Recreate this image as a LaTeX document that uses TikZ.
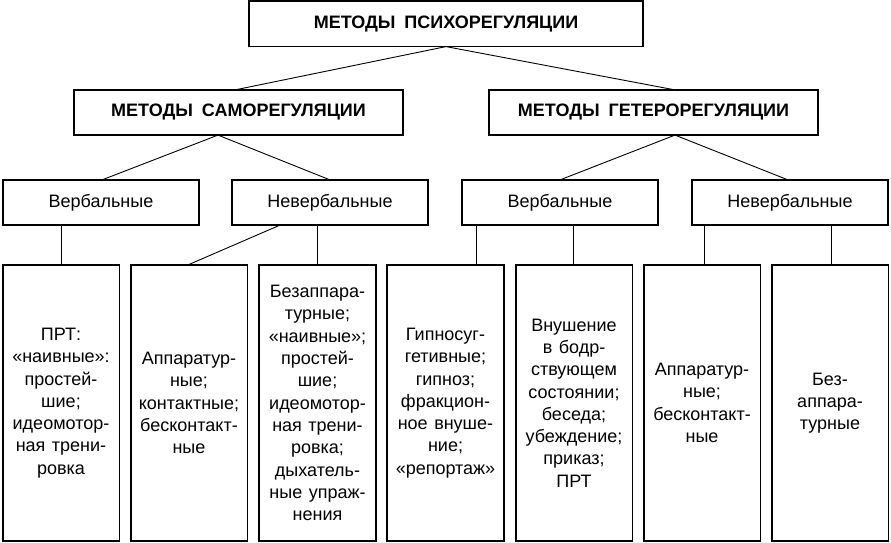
\documentclass[tikz,border=0pt]{standalone}
\usepackage{fontspec}
\setmainfont{Liberation Sans}[WordSpace=1.3]
\begin{document}
\begin{tikzpicture}[x=1pt,y=-1pt,
  box/.style={draw, line width=1.8pt, inner sep=0pt, outer sep=0pt, align=center,
    font=\fontsize{18}{22.3}\selectfont},
  headbox/.style={box, minimum height=45.2pt, font=\fontsize{18}{22.3}\selectfont\bfseries},
  midbox/.style={box, minimum width=196.2pt, minimum height=45.2pt},
  leafbox/.style={box, minimum width=116.8pt, minimum height=276.2pt},
  link/.style={line width=0.9pt}]
\useasboundingbox (0,0) rectangle (891,543);
% top level
\node[headbox, minimum width=394.2pt] (top) at (446,24) {МЕТОДЫ\enspace ПСИХОРЕГУЛЯЦИИ};
\node[headbox, minimum width=329.2pt] (samo) at (238.5,112.5) {МЕТОДЫ\enspace САМОРЕГУЛЯЦИИ};
\node[headbox, minimum width=329.2pt] (getero) at (653.5,112.5) {МЕТОДЫ\enspace ГЕТЕРОРЕГУЛЯЦИИ};
% second level
\node[midbox] (verb1) at (101,202.5) {Вербальные};
\node[midbox] (nevb1) at (330,202.5) {Невербальные};
\node[midbox] (verb2) at (560,202.5) {Вербальные};
\node[midbox] (nevb2) at (790,202.5) {Невербальные};
% leaves
\node[leafbox] (b1) at (61,403) {ПРТ:\\«наивные»:\\простей-\\шие;\\идеомотор-\\ная трени-\\ровка};
\node[leafbox] (b2) at (189,403) {Аппаратур-\\ные;\\контактные;\\бесконтакт-\\ные};
\node[leafbox] (b3) at (317.5,403) {Безаппара-\\турные;\\«наивные»;\\простей-\\шие;\\идеомотор-\\ная трени-\\ровка;\\дыхатель-\\ные упраж-\\нения};
\node[leafbox] (b4) at (445.5,403) {Гипносуг-\\гетивные;\\гипноз;\\фракцион-\\ное внуше-\\ние;\\«репортаж»};
\node[leafbox] (b5) at (574,403) {Внушение\\в бодр-\\ствующем\\состоянии;\\беседа;\\убеждение;\\приказ;\\ПРТ};
\node[leafbox] (b6) at (702,403) {Аппаратур-\\ные;\\бесконтакт-\\ные};
\node[leafbox] (b7) at (830,403) {Без-\\аппара-\\турные};
% connectors
\draw[link] (top.south) -- ([xshift=-3.5pt]samo.north);
\draw[link] (top.south) -- ([xshift=21.5pt]getero.north);
\draw[link] ([xshift=-20.5pt]samo.south) -- ([xshift=1pt]verb1.north);
\draw[link] ([xshift=-20.5pt]samo.south) -- (nevb1.north);
\draw[link] ([xshift=21.5pt]getero.south) -- (verb2.north);
\draw[link] ([xshift=21.5pt]getero.south) -- ([xshift=-2pt]nevb2.north);
\draw[link] ([xshift=-40pt]verb1.south) -- (b1.north);
\draw[link] ([xshift=-50pt]nevb1.south) -- ([xshift=-1pt]b2.north);
\draw[link] ([xshift=-13pt]nevb1.south) -- (b3.north -| {317,0});
\draw[link] ([xshift=-84pt]verb2.south) -- (b4.north -| {476,0});
\draw[link] ([xshift=13pt]verb2.south) -- (b5.north -| {573,0});
\draw[link] ([xshift=-86pt]nevb2.south) -- (b6.north -| {704,0});
\draw[link] ([xshift=41pt]nevb2.south) -- (b7.north -| {831,0});
\end{tikzpicture}
\end{document}
